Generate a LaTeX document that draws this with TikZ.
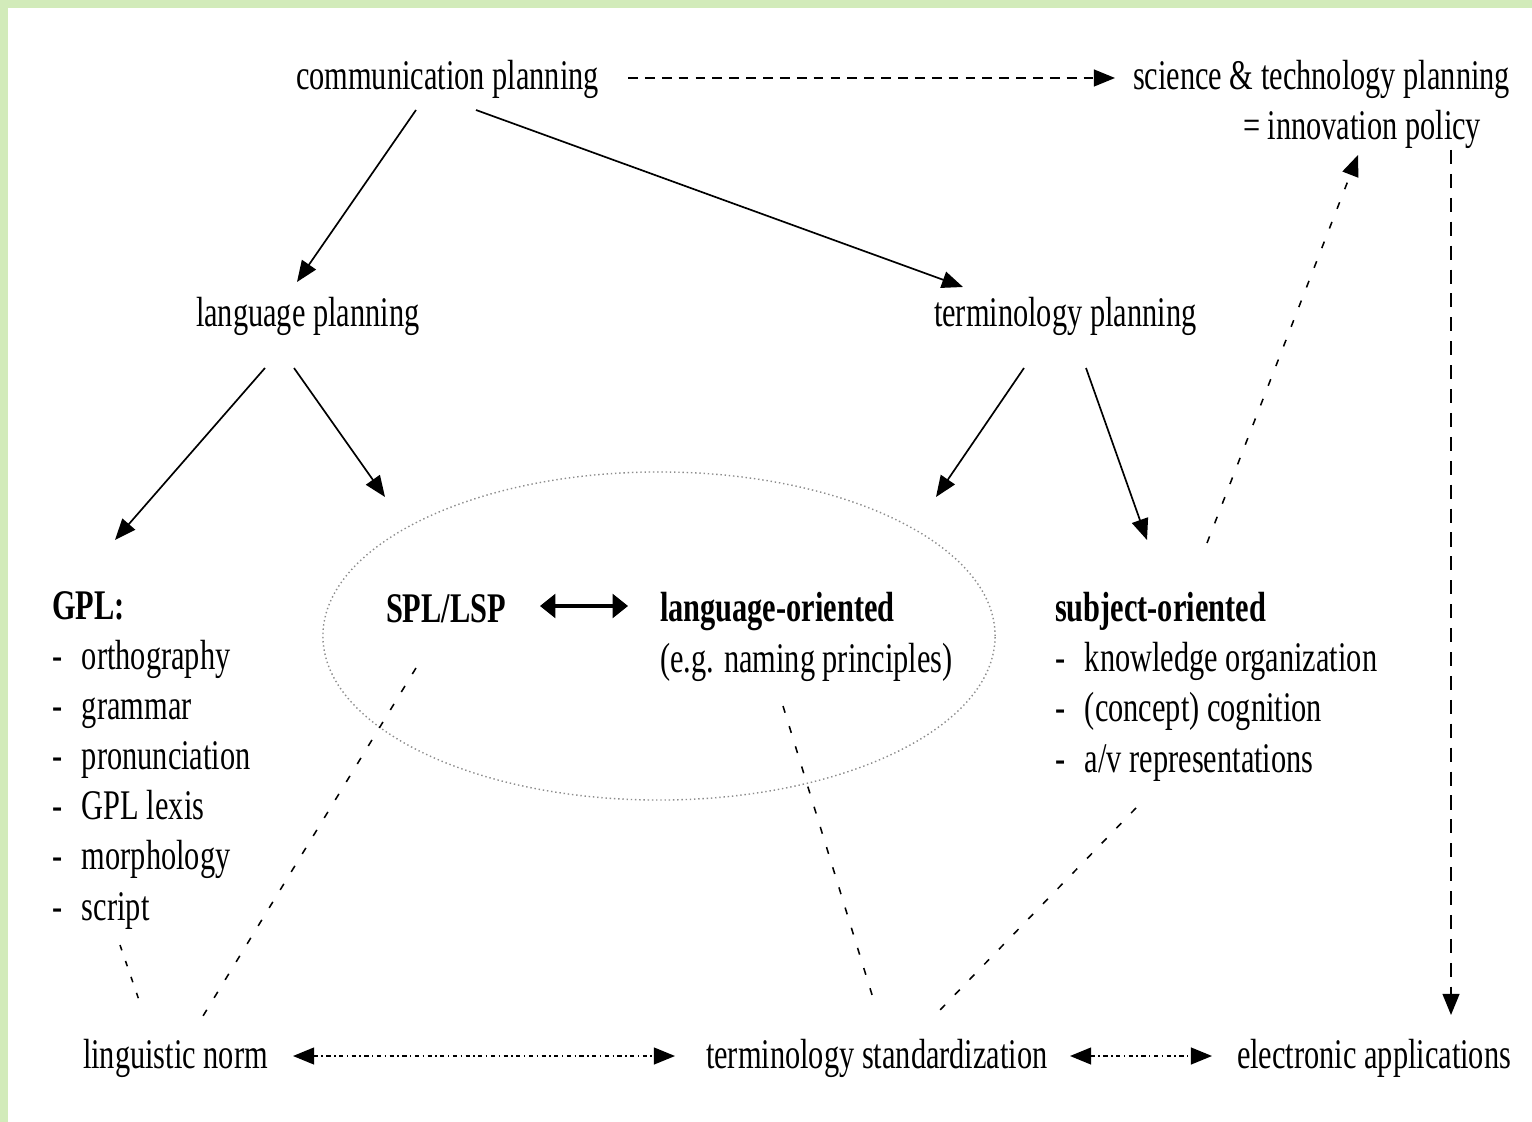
\documentclass[tikz,border=0pt]{standalone}
\usepackage{fontspec}
\setmainfont{Liberation Serif}[FakeStretch=0.72]
\usetikzlibrary{
arrows.meta,
shapes.geometric,
}
\definecolor{framegreen}{RGB}{210,235,186}
\tikzset{
x=0.025cm, y=-0.025cm,
every node/.style={inner sep=0pt, outer sep=0pt, anchor=base west, align=left,
  font=\fontsize{30}{35.6}\selectfont},
>={Triangle[length=15pt,width=12pt]},
flow/.style={->, line width=1.2pt},
lead/.style={->, line width=1.1pt, dash pattern=on 7pt off 5pt},
link/.style={line width=1.1pt, dash pattern=on 5pt off 10pt},
swap/.style={<->, line width=1.1pt, dash pattern=on 3pt off 2.5pt on 1pt off 2.5pt},
both/.style={{Triangle[length=11pt,width=17pt]}-{Triangle[length=11pt,width=17pt]}, line width=2.2pt},
oval/.style={ellipse, anchor=center, draw=black!45, dotted, line width=1pt,
  minimum width=16.8cm, minimum height=8.2cm},
}
\newcommand{\itm}{\makebox[0.75cm][l]{-}}

\begin{document}
\begin{tikzpicture}
\useasboundingbox (0,0) rectangle (1532,1122);
\fill[framegreen] (0,0) rectangle (1532,8);
\fill[framegreen] (0,0) rectangle (8,1122);

% planning levels
\node (comm) at (296,90) {communication planning};
\node (sci) at (1133,90) {science \& technology planning};
\node (innov) at (1243,140) {= innovation policy};
\node (lang) at (196,327) {language planning};
\node (term) at (934,327) {terminology planning};

% fields (multi-line nodes sit on their last line)
\node (oval) [oval] at (659,636) {};
\node (gpl) at (52,920) {\textbf{GPL:}\\ \itm orthography\\ \itm grammar\\ \itm pronunciation\\
  \itm GPL lexis\\ \itm morphology\\ \itm script};
\node (spl) at (386,622) {\textbf{SPL/LSP}};
\node (lango) at (660,672) {\textbf{language-oriented}\\ (e.g. naming principles)};
\node (subj) at (1055,772) {\textbf{subject-oriented}\\ \itm knowledge organization\\
  \itm (concept) cognition\\ \itm a/v representations};

% results
\node (norm) at (83,1068) {linguistic norm};
\node (std) at (706,1068) {terminology standardization};
\node (elec) at (1237,1068) {electronic applications};

\draw[flow] ([shift={(120,20)}]comm.base west) -- ([shift={(101,-45)}]lang.base west);
\draw[flow] ([shift={(180,20)}]comm.base west) -- ([shift={(29,-40)}]term.base west);
\draw[lead] ([shift={(332,-12)}]comm.base west) -- ([shift={(-18,-12)}]sci.base west);
\draw[flow] ([shift={(69,41)}]lang.base west) -- ([shift={(63,-380)}]gpl.base west);
\draw[flow] ([shift={(98,41)}]lang.base west) -- ([shift={(-274,-139)}]oval.center);
\draw[flow] ([shift={(90,41)}]term.base west) -- ([shift={(277,-139)}]oval.center);
\draw[flow] ([shift={(152,41)}]term.base west) -- ([shift={(92,-232)}]subj.base west);
\draw[link,->] ([shift={(152,-229)}]subj.base west) -- ([shift={(115,15)}]innov.base west);
\draw[lead, dash pattern=on 10pt off 7pt] ([shift={(208,10)}]innov.base west)
  -- ([shift={(214,-53)}]elec.base west);
\draw[both] ([shift={(154,-16)}]spl.base west) -- ([shift={(-32,-66)}]lango.base west);
\draw[swap] ([shift={(210,-12)}]norm.base west) -- ([shift={(-31,-12)}]std.base west);
\draw[swap] ([shift={(364,-12)}]std.base west) -- ([shift={(-25,-12)}]elec.base west);

\draw[link, dash pattern=on 4pt off 8pt] ([shift={(68,25)}]gpl.base west) -- ([shift={(57,-65)}]norm.base west);
\draw[link] ([shift={(30,46)}]spl.base west) -- ([shift={(120,-52)}]norm.base west);
\draw[link] ([shift={(123,34)}]lango.base west) -- ([shift={(167,-70)}]std.base west);
\draw[link] ([shift={(81,36)}]subj.base west) -- ([shift={(234,-58)}]std.base west);
\end{tikzpicture}
\end{document}
